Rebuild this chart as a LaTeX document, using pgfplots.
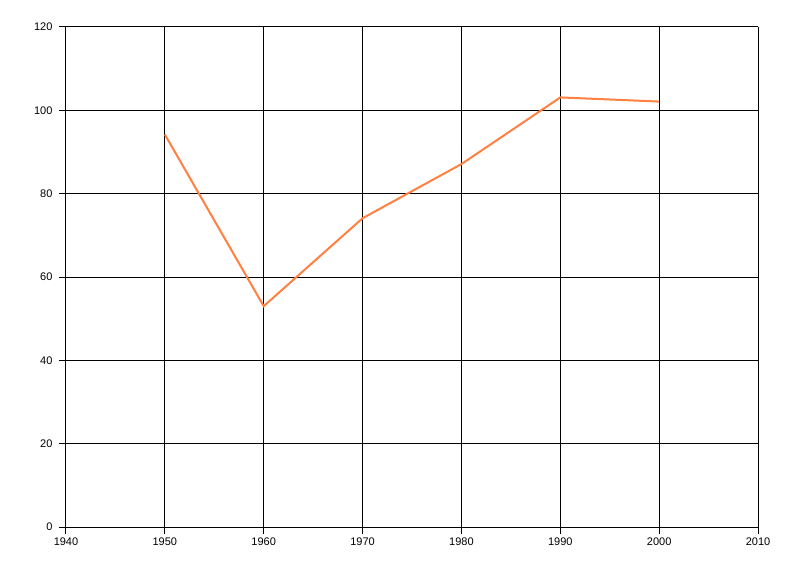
\documentclass[border=0pt]{standalone}
\usepackage{fontspec}
\setmainfont{Liberation Sans}
\usepackage{pgfplots}
\pgfplotsset{compat=1.18}
\definecolor{lineorange}{RGB}{255,128,64}
\begin{document}
\begin{tikzpicture}
\path[use as bounding box] (-66pt,-49pt) rectangle (734pt,527pt);
\begin{axis}[
  at={(0pt,0pt)}, anchor=south west,
  scale only axis,
  width=692pt, height=500pt,
  xmin=1940, xmax=2010, ymin=0, ymax=120,
  xtick={1940,1950,...,2010},
  ytick={0,20,...,120},
  xticklabel style={/pgf/number format/1000 sep={}},
  /pgf/number format/assume math mode=true,
  ticklabel style={font=\fontsize{11}{13}\selectfont, text=black},
  grid=major,
  major grid style={black, line width=1pt},
  axis line style={black, line width=1pt},
  tick style={black, line width=1pt},
  tick align=outside,
  major tick length=7pt,
  xtick pos=left, ytick pos=left,
  axis x line*=bottom, axis y line*=left,
  yticklabel style={xshift=-3pt},
  xticklabel style={yshift=0pt},
]
\addplot[lineorange, line width=2pt, mark=none] coordinates {
  (1950,94.2) (1960,53) (1970,74.1) (1980,87.1) (1990,103.1) (2000,102.1)
};
\end{axis}
\end{tikzpicture}
\end{document}
